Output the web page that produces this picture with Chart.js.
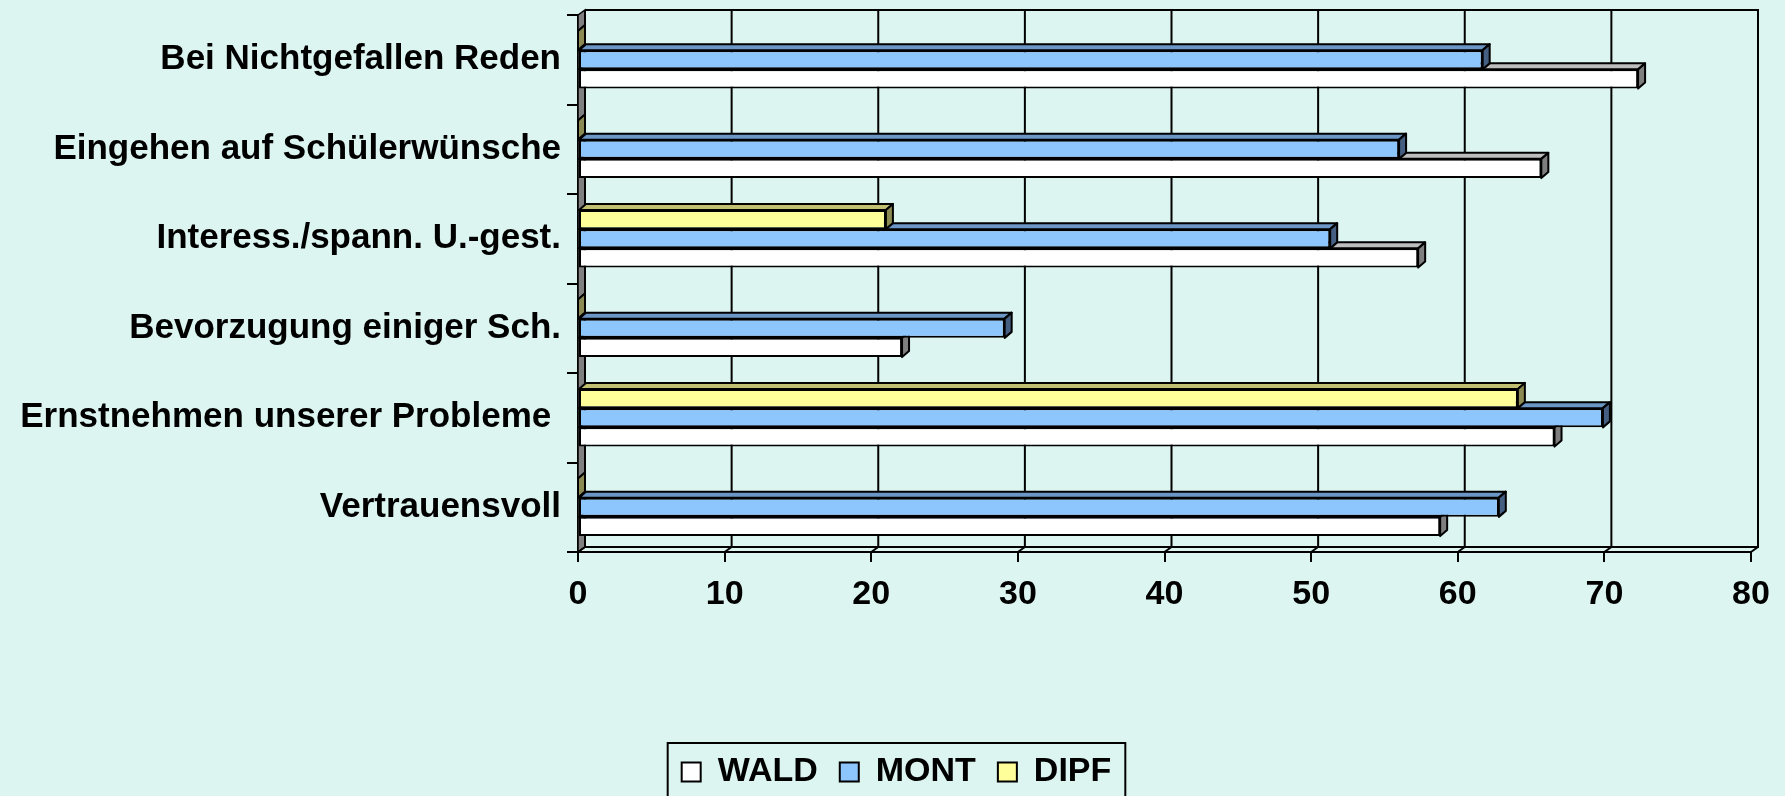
<!DOCTYPE html>
<html>
<head>
<meta charset="utf-8">
<script src="https://cdn.jsdelivr.net/npm/chart.js@4/dist/chart.umd.min.js"></script>
<style>
    html, body { margin: 0; padding: 0; background: #dcf5f0; overflow: hidden; }
    #chart { display: block; }
</style>
</head>
<body>
<canvas id="chart" width="1785" height="830"></canvas>
<script>
/* 3D-looking horizontal bar chart (WALD / MONT / DIPF) */

const categories = [
    'Bei Nichtgefallen Reden',
    'Eingehen auf Schülerwünsche',
    'Interess./spann. U.-gest.',
    'Bevorzugung einiger Sch.',
    'Ernstnehmen unserer Probleme ',
    'Vertrauensvoll',
];
const waldValues = [72.3, 65.7, 57.3, 22.1, 66.6, 58.8];
const montValues = [61.7, 56.0, 51.3, 29.1, 69.9, 62.8];
const dipfValues = [0, 0, 21.0, 0, 64.1, 0];
const xTicks = [0, 10, 20, 30, 40, 50, 60, 70, 80];

const FONT = "'Liberation Sans', Arial, sans-serif";
const LEGEND_SHIFT = 21;
const DEPTH = { dx: 7, dy: 5 };
const BAR_DEPTH = { dx: 7, dy: 6 };

// front / top / side colours per series
const SERIES_COLORS = {
    WALD: { front: '#ffffff', top: '#bdbdbd', side: '#7f7f7f' },
    MONT: { front: '#8dc5fd', top: '#6b96c5', side: '#455f82' },
    DIPF: { front: '#ffff99', top: '#c0c070', side: '#8a8a52' },
};

// back wall, left wall and floor, drawn behind the bars
const wallsPlugin = {
    id: 'walls',
    beforeDatasetsDraw(chart) {
        const { ctx, chartArea: a, scales } = chart;
        const { dx, dy } = DEPTH;
        ctx.save();
        ctx.strokeStyle = '#000';
        ctx.lineWidth = 1.5;

        // left side wall
        ctx.fillStyle = '#808080';
        ctx.beginPath();
        ctx.moveTo(a.left, a.top);
        ctx.lineTo(a.left + dx, a.top - dy);
        ctx.lineTo(a.left + dx, a.bottom - dy);
        ctx.lineTo(a.left, a.bottom);
        ctx.closePath();
        ctx.fill();
        ctx.stroke();

        // back wall gridlines
        ctx.lineWidth = 2;
        xTicks.forEach(v => {
            const x = scales.x.getPixelForValue(v);
            ctx.beginPath();
            ctx.moveTo(x + dx, a.top - dy);
            ctx.lineTo(x + dx, a.bottom - dy);
            ctx.stroke();
            // floor connector
            ctx.beginPath();
            ctx.moveTo(x, a.bottom);
            ctx.lineTo(x + dx, a.bottom - dy);
            ctx.stroke();
        });

        ctx.beginPath();
        ctx.moveTo(a.left + dx, a.top - dy);
        ctx.lineTo(a.right + dx, a.top - dy);
        ctx.lineTo(a.right + dx, a.bottom - dy);
        ctx.lineTo(a.left + dx, a.bottom - dy);
        ctx.stroke();
        ctx.restore();
    },
};

// top and side faces of each bar, after its dataset is drawn
const barFacesPlugin = {
    id: 'barFaces',
    afterDatasetDraw(chart, args) {
        const { ctx } = chart;
        const ds = chart.data.datasets[args.index];
        const c = SERIES_COLORS[ds.label];
        const { dx, dy } = BAR_DEPTH;
        ctx.save();
        ctx.strokeStyle = '#000';
        ctx.lineWidth = 2;
        ctx.lineJoin = 'round';
        args.meta.data.forEach(bar => {
            const { x, y, base, height } = bar.getProps(['x', 'y', 'base', 'height'], true);
            const top = y - height / 2;
            const bottom = y + height / 2;

            ctx.fillStyle = c.top;
            ctx.beginPath();
            ctx.moveTo(base, top);
            ctx.lineTo(base + dx, top - dy);
            ctx.lineTo(x + dx, top - dy);
            ctx.lineTo(x, top);
            ctx.closePath();
            ctx.fill();
            ctx.stroke();

            ctx.fillStyle = c.side;
            ctx.beginPath();
            ctx.moveTo(x, top);
            ctx.lineTo(x + dx, top - dy);
            ctx.lineTo(x + dx, bottom - dy);
            ctx.lineTo(x, bottom);
            ctx.closePath();
            ctx.fill();
            ctx.stroke();
        });
        ctx.restore();
    },
};

// nudge the legend to the right and frame it
const legendFramePlugin = {
    id: 'legendFrame',
    afterUpdate(chart) {
        const lg = chart.legend;
        if (!lg) return;
        lg.left += LEGEND_SHIFT;
        lg.right += LEGEND_SHIFT;
        (lg.legendHitBoxes || []).forEach(b => { b.left += LEGEND_SHIFT; });
    },
    afterDraw(chart) {
        const boxes = chart.legend && chart.legend.legendHitBoxes;
        if (!boxes || !boxes.length) return;
        const { ctx } = chart;
        const left = Math.min(...boxes.map(b => b.left)) - 14;
        const right = Math.max(...boxes.map(b => b.left + b.width)) + 14;
        const top = Math.min(...boxes.map(b => b.top)) - 12;
        ctx.save();
        ctx.strokeStyle = '#000';
        ctx.lineWidth = 2;
        ctx.strokeRect(left, top, right - left, chart.height - top + 10);
        ctx.restore();
    },
};

const makeDataset = (label, data) => ({
    label,
    data,
    backgroundColor: SERIES_COLORS[label].front,
    borderColor: '#000',
    borderWidth: 2,
    borderSkipped: false,
});

new Chart(document.getElementById('chart'), {
    type: 'bar',
    data: {
        labels: categories,
        datasets: [
            makeDataset('DIPF', dipfValues),
            makeDataset('MONT', montValues),
            makeDataset('WALD', waldValues),
        ],
    },
    plugins: [wallsPlugin, barFacesPlugin, legendFramePlugin],
    options: {
        indexAxis: 'y',
        responsive: false,
        animation: false,
        categoryPercentage: 0.645,
        barPercentage: 1,
        layout: { padding: { top: 15, right: 34, bottom: 31, left: 0 } },
        scales: {
            x: {
                min: 0,
                max: 80,
                afterBuildTicks: scale => { scale.ticks = xTicks.map(v => ({ value: v })); },
                afterFit: scale => { scale.height = 181; },
                grid: { drawOnChartArea: false, tickLength: 10, color: '#000', lineWidth: 2 },
                border: { color: '#000', width: 2 },
                ticks: { color: '#000', padding: 12, font: { family: FONT, size: 34, weight: 'bold' } },
            },
            y: {
                afterFit: scale => {
                    scale.width = 578;
                    scale.paddingTop = 0;
                    scale.paddingBottom = 0;
                },
                grid: { drawOnChartArea: false, tickLength: 11, color: '#000', lineWidth: 2, offset: true },
                border: { color: '#000', width: 2 },
                ticks: { color: '#000', padding: 6, autoSkip: false, font: { family: FONT, size: 35, weight: 'bold' } },
            },
        },
        plugins: {
            tooltip: { enabled: false },
            legend: {
                position: 'bottom',
                reverse: true,
                labels: {
                    color: '#000',
                    boxWidth: 19,
                    boxHeight: 19,
                    padding: 22,
                    font: { family: FONT, size: 34, weight: 'bold' },
                },
            },
        },
    },
});
</script>
</body>
</html>
